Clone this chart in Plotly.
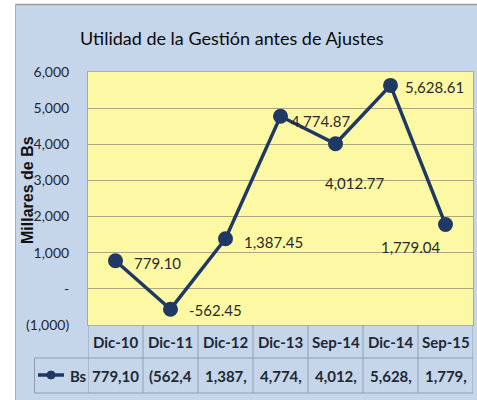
import plotly.graph_objects as go

categories = ["Dic-10", "Dic-11", "Dic-12", "Dic-13", "Sep-14", "Dic-14", "Sep-15"]
values = [779.10, -562.45, 1387.45, 4774.87, 4012.77, 5628.61, 1779.04]
point_labels = ["779.10", "-562.45", "1,387.45", "4,774.87", "4,012.77", "5,628.61", "1,779.04"]
table_values = ["779,10", "(562,4", "1,387,", "4,774,", "4,012,", "5,628,", "1,779,"]
y_tickvals = [-1000, 0, 1000, 2000, 3000, 4000, 5000, 6000]
y_ticktext = ["(1,000)", "-", "1,000", "2,000", "3,000", "4,000", "5,000", "6,000"]
series_name = "Bs"
title_text = "Utilidad de la Gestión antes de Ajustes"
y_title = "Millares de Bs"

# label offsets (px): (xshift, yshift, xanchor)
label_pos = [(16, -2, "left"), (16, -1, "left"), (16, -3, "left"), (8, -5, "left"),
             (19, -39, "center"), (12, -2, "left"), (-35, -22, "center")]

W, H = 477, 400
L, R, T, B = 88, 4, 72, 75
PW, PH = W - L - R, H - T - B

def px(x):
    return (x - L) / PW

def py(y):
    return (H - B - y) / PH

FONT = "Lato, Liberation Sans, sans-serif"
TXT = "#1e2833"
NAVY = "#1f3864"
PANEL = "#c6d6ea"
TLINE = "#8e9db0"

fig = go.Figure()
fig.add_trace(go.Scatter(
    x=categories, y=values, mode="lines+markers", name=series_name,
    line=dict(color=NAVY, width=3.5),
    marker=dict(color=NAVY, size=15, symbol="circle"),
    showlegend=False, cliponaxis=False,
))

annotations = []
for c, v, t, (xs, ys, xa) in zip(categories, values, point_labels, label_pos):
    annotations.append(dict(x=c, y=v, xref="x", yref="y", text=t, showarrow=False,
                            xanchor=xa, yanchor="middle", xshift=xs, yshift=ys,
                            font=dict(family=FONT, size=15, color="#2a2a2a")))
for c, t in zip(categories, table_values):
    annotations.append(dict(x=c, y=py(342), xref="x", yref="paper", text="<b>%s</b>" % c, showarrow=False,
                            font=dict(family=FONT, size=15, color=TXT), yanchor="middle"))
    annotations.append(dict(x=c, y=py(376), xref="x", yref="paper", text="<b>%s</b>" % t, showarrow=False,
                            font=dict(family=FONT, size=15, color=TXT), yanchor="middle"))
annotations.append(dict(x=px(232), y=py(38), xref="paper", yref="paper", text=title_text,
                        showarrow=False, xanchor="center", yanchor="middle",
                        font=dict(family=FONT, size=18, color="#0a0a0a")))
annotations.append(dict(x=px(27), y=py(190), xref="paper", yref="paper", text="<b>%s</b>" % y_title,
                        showarrow=False, textangle=-90, xanchor="center", yanchor="middle",
                        font=dict(family="Liberation Sans, Arial, sans-serif", size=16, color="#111111")))
annotations.append(dict(x=px(68), y=py(376), xref="paper", yref="paper", text="<b>%s</b>" % series_name,
                        showarrow=False, xanchor="left", yanchor="middle",
                        font=dict(family=FONT, size=15, color=TXT)))

shapes = []
shapes.append(dict(type="rect", xref="paper", yref="paper", x0=px(0), x1=px(15), y0=py(400), y1=py(0),
                   fillcolor="white", line=dict(width=0), layer="above"))
shapes.append(dict(type="rect", xref="paper", yref="paper", x0=px(0), x1=px(477), y0=py(4), y1=py(0),
                   fillcolor="white", line=dict(width=0), layer="above"))
shapes.append(dict(type="line", xref="paper", yref="paper", x0=px(15), x1=px(477), y0=py(4.5), y1=py(4.5),
                   line=dict(color="#9a9a9a", width=1.5), layer="above"))
shapes.append(dict(type="line", xref="paper", yref="paper", x0=px(15.5), x1=px(15.5), y0=py(4), y1=py(400),
                   line=dict(color="#a8b0ba", width=1), layer="above"))
n = len(categories)
for i in range(n + 1):
    shapes.append(dict(type="line", xref="x", yref="paper", x0=i - 0.5, x1=i - 0.5, y0=py(393), y1=0,
                       line=dict(color=TLINE, width=1), layer="above"))
for yy in (358, 393):
    shapes.append(dict(type="line", xref="paper", yref="paper", x0=px(34.5), x1=1, y0=py(yy), y1=py(yy),
                       line=dict(color=TLINE, width=1), layer="above"))
shapes.append(dict(type="line", xref="paper", yref="paper", x0=px(34.5), x1=px(34.5), y0=py(358), y1=py(393),
                   line=dict(color=TLINE, width=1), layer="above"))
shapes.append(dict(type="line", xref="paper", yref="paper", x0=px(38), x1=px(64), y0=py(375), y1=py(375),
                   line=dict(color=NAVY, width=3.5), layer="above"))
shapes.append(dict(type="circle", xref="paper", yref="paper", x0=px(47), x1=px(55), y0=py(371), y1=py(379),
                   fillcolor=NAVY, line=dict(color=NAVY, width=1), layer="above"))

fig.update_layout(
    width=W, height=H, autosize=False,
    margin=dict(l=L, r=R, t=T, b=B),
    paper_bgcolor=PANEL, plot_bgcolor="#fdf8a4",
    shapes=shapes, annotations=annotations,
    showlegend=False,
    xaxis=dict(type="category", range=[-0.5, n - 0.5], showticklabels=False, showgrid=False,
               zeroline=False, showline=True, linecolor="#b0b0a0", linewidth=1, mirror=True),
    yaxis=dict(range=[-1000, 6000], tickvals=y_tickvals, ticktext=y_ticktext,
               showgrid=True, gridcolor="#aca981", gridwidth=1, zeroline=False,
               showline=True, linecolor="#a8a8a0", linewidth=1, mirror=True,
               ticklabelstandoff=15,
               tickfont=dict(family=FONT, size=14, color=TXT)),
)

fig.write_html("out.html", config={"displayModeBar": False},
               post_script="document.body.style.margin='0';")
